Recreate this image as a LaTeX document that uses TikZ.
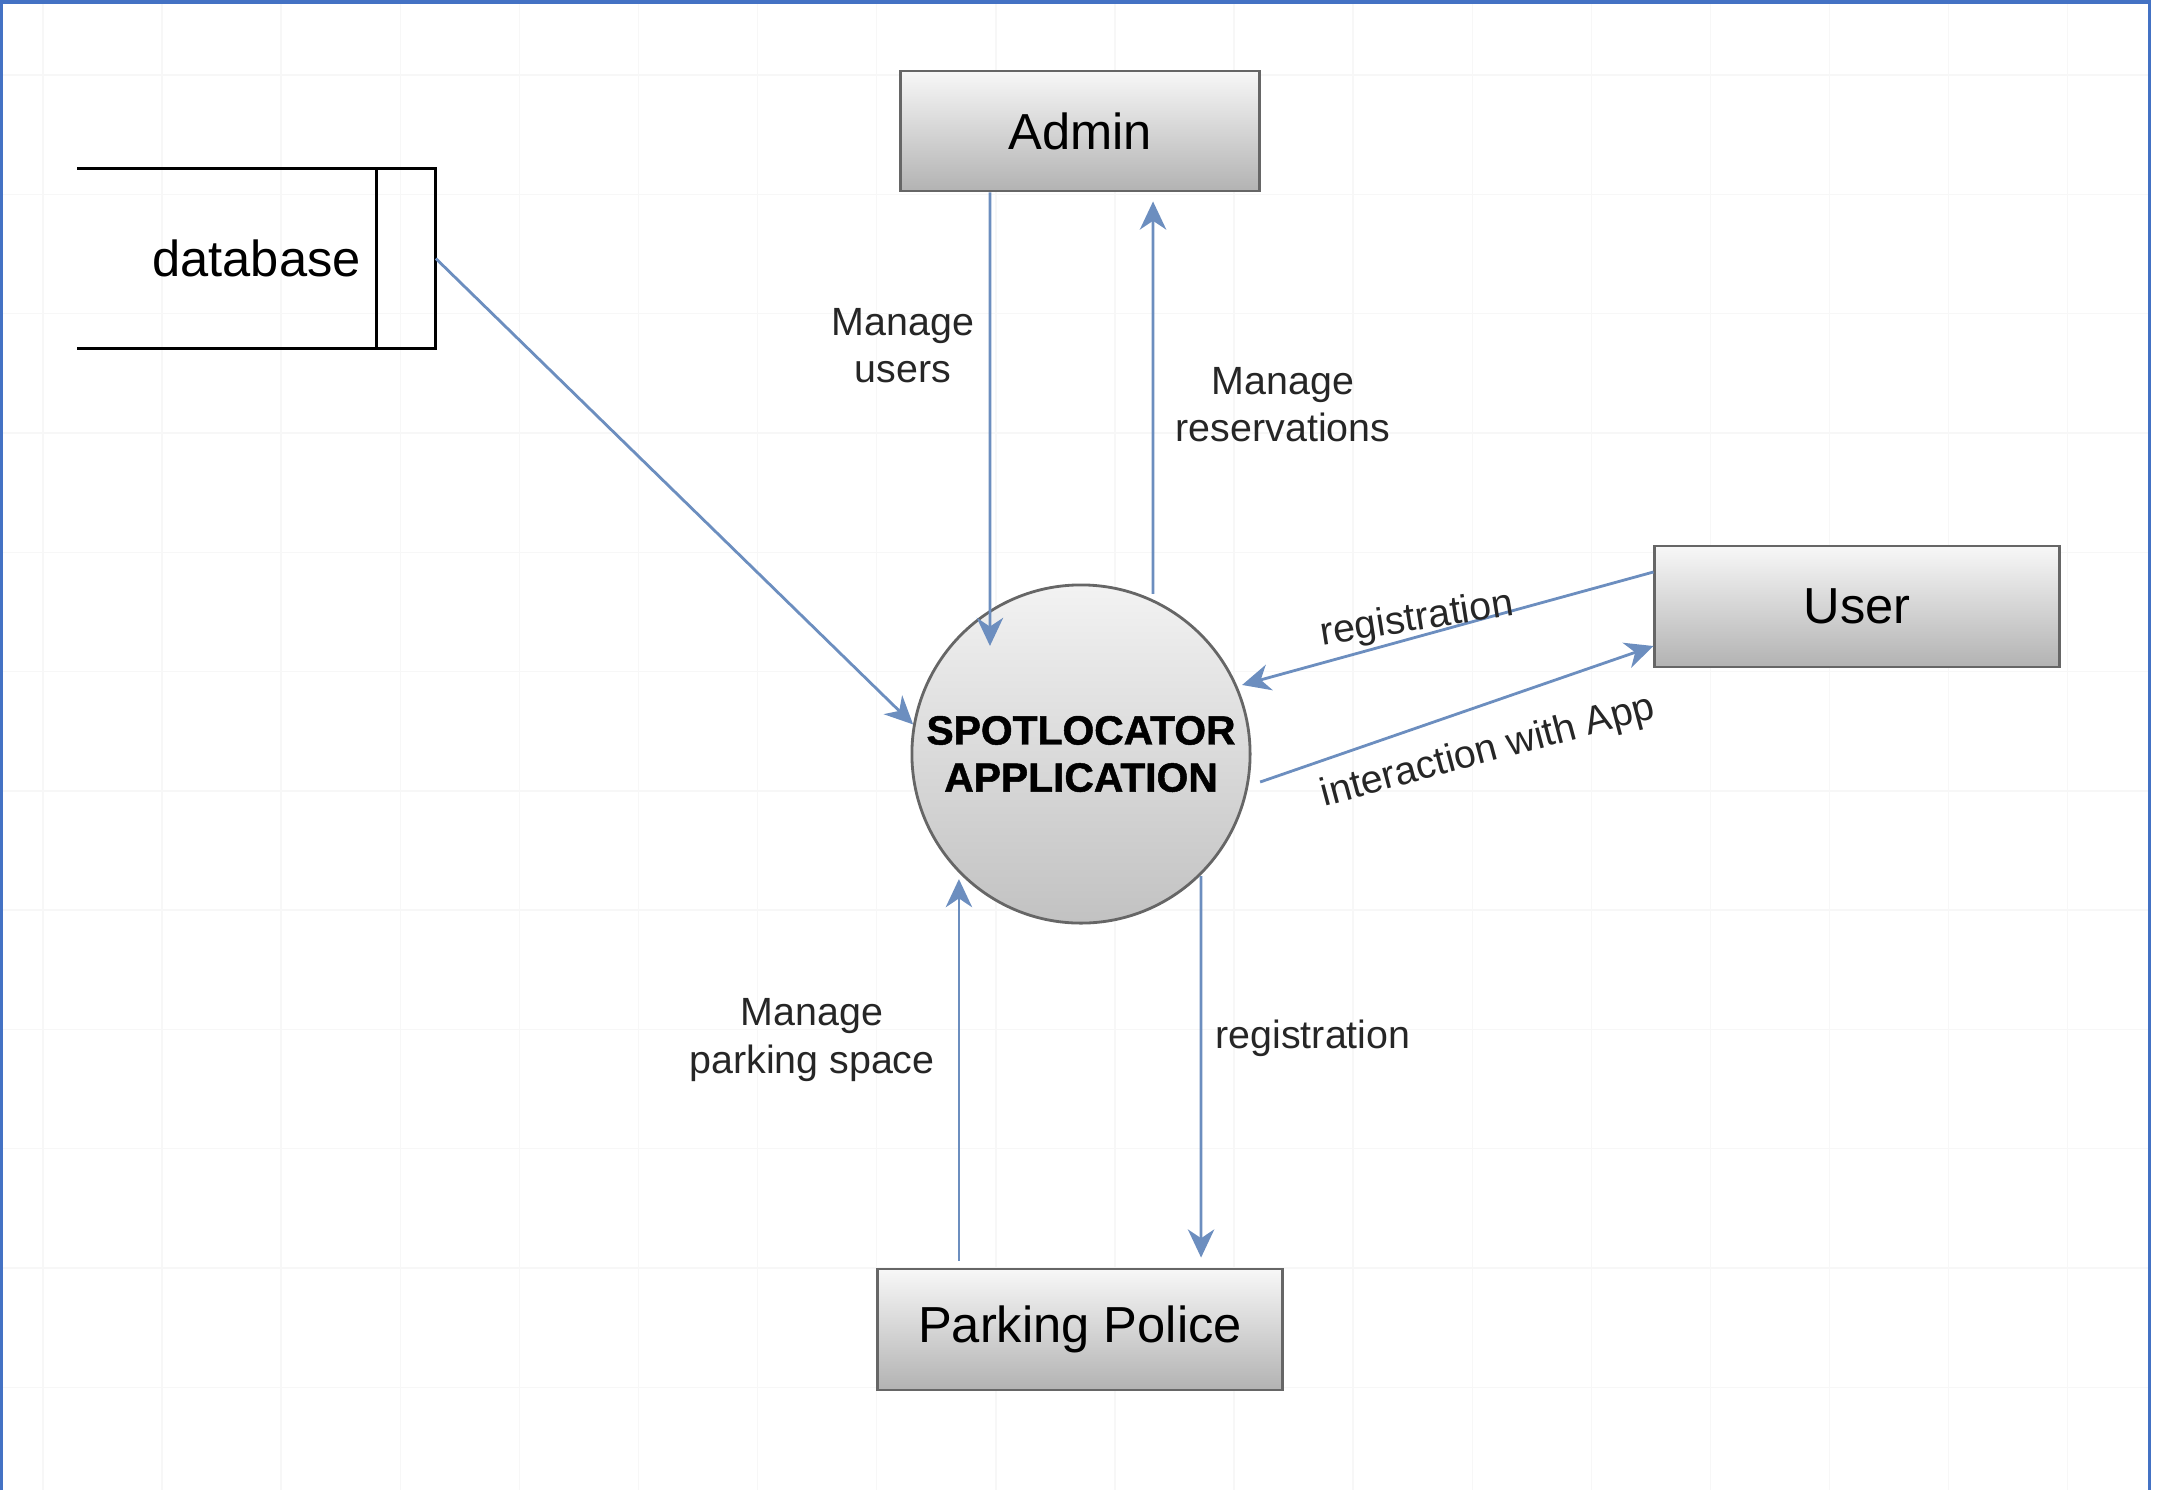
\documentclass[tikz,border=0pt]{standalone}
\usepackage{fontspec}
\setmainfont{Liberation Sans}
\newfontfamily\titlefont{Liberation Sans}[UprightFont={* Bold}, FakeBold=1.2]
\usetikzlibrary{arrows.meta}

\definecolor{flowblue}{HTML}{6C8EBF}
\definecolor{frameblue}{HTML}{4472C4}
\definecolor{edgegray}{HTML}{666666}

\tikzset{
  entity/.style={draw=edgegray, line width=0.8pt, top color=black!3, bottom color=black!30,
    minimum width=4.04cm, minimum height=1.21cm, font=\fontsize{14.4}{17}\selectfont},
  process/.style={circle, draw=edgegray, line width=0.8pt, top color=black!5, bottom color=black!24,
    minimum size=3.38cm, inner sep=0pt, align=center, font=\titlefont\fontsize{11.6}{13.4}\selectfont},
  dbstore/.style={minimum width=3.57cm, minimum height=1.79cm, inner sep=0pt, font=\fontsize{14.4}{17}\selectfont},
  flow/.style={draw=flowblue, line width=0.8pt, -{Stealth[length=8pt,width=7.5pt,inset=2.5pt]}},
  flowlabel/.style={font=\fontsize{11.2}{13.4}\selectfont, align=center, text=black!85},
  gridline/.style={draw=black!3, line width=0.4pt}
}

\begin{document}
\begin{tikzpicture}[x=0.01cm, y=-0.01cm]
  \useasboundingbox (0,0) rectangle (2172,1490);

  % Faint background grid
  \foreach \gx in {0,...,17}
    \draw[gridline] ({43+119.1*\gx},0) -- ({43+119.1*\gx},1490);
  \foreach \gy in {0,...,11}
    \draw[gridline] (0,{75+119.3*\gy}) -- (2149,{75+119.3*\gy});

  % Blue frame (open at the bottom)
  \draw[frameblue, line width=0.9pt] (1.5,1490) -- (1.5,2) -- (2149.5,2) -- (2149.5,1490);

  % Entities and the process
  \node[entity, minimum width=3.59cm, minimum height=1.20cm] (admin) at (1080,131) {Admin};
  \node[entity] (user) at (1857,606.5) {User};
  \node[entity] (police) at (1080,1329.5) {Parking Police};
  \node[process] (app) at (1081,754) {SPOTLOCATOR\\APPLICATION};

  % Data store, open on the left
  \node[dbstore] (db) at (256.5,258.5) {database};
  \draw[line width=0.8pt] (db.north west) -- (db.north east) -- (db.south east) -- (db.south west);
  \draw[line width=0.8pt] ([xshift=-0.59cm]db.north east) -- ([xshift=-0.59cm]db.south east);

  % Flows
  \draw[flow] (db.east) -- (app.170);
  \draw[flow] ([xshift=-0.9cm]admin.south) -- ([shift={(-0.91cm,1.08cm)}]app.center);
  \draw[flow] ([shift={(0.72cm,1.60cm)}]app.center) -- ([shift={(0.73cm,-0.09cm)}]admin.south);
  \draw[flow] ([yshift=0.345cm]user.west) -- ([shift={(1.61cm,0.69cm)}]app.center);
  \draw[flow] ([shift={(1.79cm,-0.28cm)}]app.center) -- ([yshift=-0.395cm]user.west);
  \draw[flow] ([shift={(-1.21cm,0.07cm)}]police.north) -- ([shift={(-1.22cm,-1.25cm)}]app.center);
  \draw[flow] ([shift={(1.20cm,-1.22cm)}]app.center) -- ([shift={(1.21cm,0.10cm)}]police.north);

  % Flow labels
  \node[flowlabel] (lblusers) at (903,346) {Manage\\users};
  \node[flowlabel] (lblres) at (1283,405) {Manage\\reservations};
  \node[flowlabel] (lblspace) at (812,1040) {Manage\\parking space};
  \node[flowlabel] (lblpreg) at (1313,1038) {registration};
  \node[flowlabel, rotate=9] (lblureg) at (1417,620) {registration};
  \node[flowlabel, rotate=15] (lblapp) at (1488,752) {interaction with App};
\end{tikzpicture}
\end{document}
